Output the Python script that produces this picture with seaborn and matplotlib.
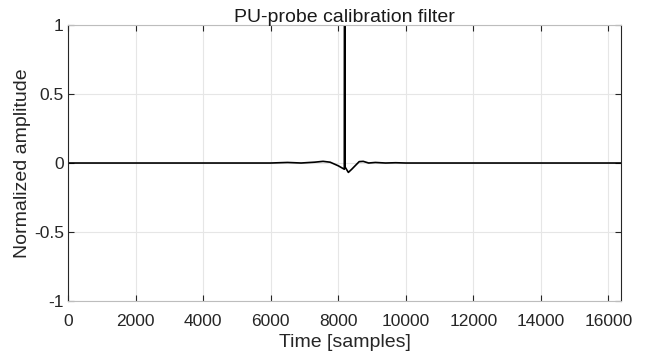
import matplotlib
matplotlib.use("Agg")
import matplotlib.pyplot as plt
import seaborn as sns
import pandas as pd

# Data (time in samples, normalized amplitude)
time_samples = [0, 6000, 6500, 6900, 7300, 7550, 7760, 8000, 8180,
                8192, 8205, 8300, 8400, 8500, 8620, 8740, 8900,
                9100, 9400, 9700, 10000, 16384]
amplitude = [0.0, 0.0, 0.004, 0.0, 0.006, 0.012, 0.006, -0.02, -0.045,
             4.0, -0.03, -0.068, -0.045, -0.02, 0.01, 0.012, 0.0,
             0.004, 0.0, 0.002, 0.0, 0.0]

x_ticks = [0, 2000, 4000, 6000, 8000, 10000, 12000, 14000, 16000]
y_ticks = [-1, -0.5, 0, 0.5, 1]
y_tick_labels = ["-1", "-0.5", "0", "0.5", "1"]

title_text = "PU-probe calibration filter"
x_label = "Time [samples]"
y_label = "Normalized amplitude"

sns.set_style("white")
plt.rcParams["font.family"] = ["Liberation Sans", "DejaVu Sans"]

df = pd.DataFrame({"t": time_samples, "a": amplitude})

fig = plt.figure(figsize=(6.59, 3.55), dpi=100)
ax = fig.add_axes([0.1032, 0.152, 0.8398, 0.7776])

sns.lineplot(data=df, x="t", y="a", ax=ax, color="black", linewidth=1.2,
             estimator=None, sort=False)

ax.set_xlim(0, 16384)
ax.set_ylim(-1, 1)
ax.set_xticks(x_ticks)
ax.set_xticklabels([str(v) for v in x_ticks])
ax.set_yticks(y_ticks)
ax.set_yticklabels(y_tick_labels)

ax.grid(True, color="#e6e6e6", linewidth=0.8)
ax.set_axisbelow(True)

for side in ["left", "right"]:
    ax.spines[side].set_color("#262626")
    ax.spines[side].set_linewidth(0.8)
for side in ["top", "bottom"]:
    ax.spines[side].set_color("#bdbdbd")
    ax.spines[side].set_linewidth(0.8)

ax.tick_params(axis="both", which="major", direction="in", length=4,
               width=0.8, color="#262626", labelsize=12.5, labelcolor="#262626",
               top=True, right=True, bottom=True, left=True)
ax.tick_params(axis="x", pad=9)
ax.tick_params(axis="y", pad=3)

ax.set_title(title_text, fontsize=14, color="#1a1a1a", pad=2)
ax.set_xlabel(x_label, fontsize=14, color="#262626", labelpad=4)
ax.set_ylabel(y_label, fontsize=14, color="#262626", labelpad=2)

fig.savefig("out.png", dpi=100)
